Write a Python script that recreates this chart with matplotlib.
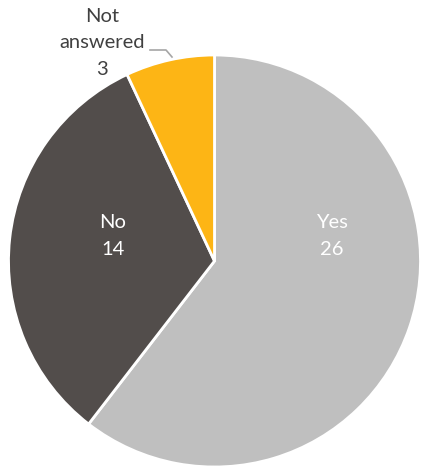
import matplotlib
matplotlib.use("Agg")
import matplotlib.pyplot as plt

categories = ["Yes", "No", "Not\nanswered"]
values = [26, 14, 3]
colors = ["#BFBFBF", "#524D4B", "#FDB515"]

W, H = 421, 469
fig = plt.figure(figsize=(W / 100, H / 100), dpi=100)
cx, cy, r = 214.5, 261.0, 206.0
ax = fig.add_axes([(cx - r) / W, (H - cy - r) / H, 2 * r / W, 2 * r / H])
ax.pie(values, colors=colors, startangle=90, counterclock=False, radius=1,
       wedgeprops=dict(edgecolor="white", linewidth=2))
ax.set_xlim(-1, 1)
ax.set_ylim(-1, 1)
ax.set_aspect("equal")
ax.axis("off")

font = dict(family=["Lato", "DejaVu Sans"], fontsize=14.5, linespacing=1.7)
p = lambda px, py: ((px - cx) / r, (cy - py) / r)
label_pos = [p(332, 236), p(113, 236), p(102, 43)]
text_colors = ["white", "white", "#404040"]
for cat, val, (x, y), tc in zip(categories, values, label_pos, text_colors):
    ax.text(x, y, f"{cat}\n{val}", ha="center", va="center", color=tc,
            clip_on=False, **font)

# leader line for the small slice
xs, ys = zip(p(150, 50), p(166, 50), p(172, 57))
ax.plot(xs, ys, color="#A6A6A6", lw=1.2, clip_on=False)

fig.savefig("out.png", dpi=100)
